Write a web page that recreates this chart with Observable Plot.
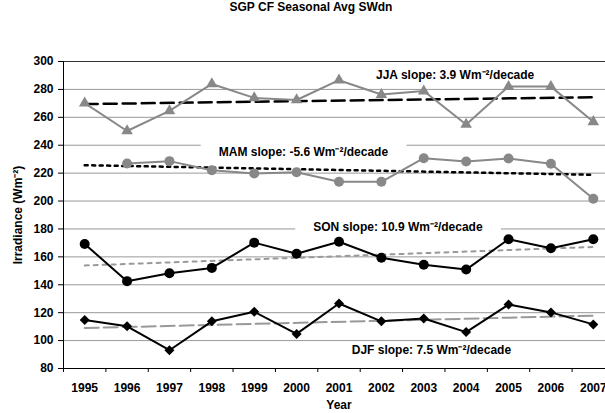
<!DOCTYPE html>
<html><head><meta charset="utf-8">
<script src="https://cdn.jsdelivr.net/npm/d3@7"></script>
<script src="https://cdn.jsdelivr.net/npm/@observablehq/plot@0.6"></script>
<style>
html,body{margin:0;padding:0;overflow:hidden;background:#fff;width:605px;height:413px;}
#title{height:34px;line-height:34px;width:605px;text-align:center;padding-left:17px;box-sizing:border-box;font:bold 12px Arial,"Liberation Sans",sans-serif;color:#000;}
#chart{width:605px;height:379px;overflow:hidden;position:relative;}
#chart svg{display:block;max-width:none !important;width:620px;height:379px;}
</style></head><body>
<div id="title">SGP CF Seasonal Avg SWdn</div>
<div id="chart"></div>
<script>
const years = [1995,1996,1997,1998,1999,2000,2001,2002,2003,2004,2005,2006,2007];
const jja = [270.2,250.2,264.6,283.9,273.9,272.4,286.6,276.3,278.8,254.9,282,282,256.8];
const mam = [null,226.9,228.6,222.1,219.8,220.6,213.8,213.8,230.7,228.3,230.5,226.7,201.7];
const son = [169.2,142.6,148.3,152.1,170.2,162.2,170.8,159.4,154.4,150.9,172.6,166.2,172.6];
const djf = [114.8,110.2,93.1,113.8,120.6,104.8,126.6,113.8,115.8,106.1,125.8,120.2,111.6];
const trendYears = [1995, 2007];
const jjaTrend = [269.5, 274.4];
const mamTrend = [225.7, 218.8];
const sonTrend = [153.8, 167.1];
const djfTrend = [109.0, 117.9];
const labelText = ["JJA slope: 3.9 Wm\u207B\u00B2/decade","MAM slope: -5.6 Wm\u207B\u00B2/decade","SON slope: 10.9 Wm\u207B\u00B2/decade","DJF slope: 7.5 Wm\u207B\u00B2/decade"];
const labelYear = [2003.74, 2000.16, 2002.39, 2003.18];
const labelValue = [290.3, 235.1, 181, 92.8];
const yTicks = [80,100,120,140,160,180,200,220,240,260,280,300];
const gridValues = [100,120,140,160,180,200,220,240,260,280];
const yearBounds = [1994.5,1995.5,1996.5,1997.5,1998.5,1999.5,2000.5,2001.5,2002.5,2003.5,2004.5,2005.5,2006.5,2007.5];
const yLabel = "Irradiance (Wm\u207B\u00B2)";

const rows = vals => years.map((y,i)=>({year:y, value:vals[i]})).filter(d=>d.value!=null);
const trendRows = vals => trendYears.map((y,i)=>({year:y, value:vals[i]}));
const labels = labelText.map((t,i)=>({text:t, year:labelYear[i], value:labelValue[i]}));

const plot = Plot.plot({
  width:620, height:379, marginTop:27, marginBottom:45, marginLeft:63, marginRight:6,
  style:{fontFamily:'Arial, "Liberation Sans", sans-serif', fontSize:"12px", fontWeight:"bold", background:"white", color:"#000"},
  x:{domain:[1994.5,2007.5]},
  y:{domain:[80,300]},
  marks:[
    Plot.ruleY(gridValues, {stroke:"#999", strokeWidth:1}),
    Plot.ruleY([300], {stroke:"#333", strokeWidth:1}),
    Plot.ruleY([80], {stroke:"#000", strokeWidth:1}),
    Plot.ruleX([1994.5], {stroke:"#000", strokeWidth:1}),
    Plot.axisY(yTicks, {tickSize:5, tickPadding:5, label:yLabel, labelAnchor:"center", labelArrow:"none", labelOffset:50}),
    Plot.axisX(yearBounds, {tickSize:4, tickFormat:()=>"", label:null}),
    Plot.axisX(years, {tickSize:0, tickPadding:15, tickFormat:"d", label:"Year", labelAnchor:"center", labelArrow:"none", labelOffset:40}),
    Plot.line(trendRows(jjaTrend), {x:"year", y:"value", stroke:"#000", strokeWidth:2.5, strokeDasharray:"13,6"}),
    Plot.line(trendRows(mamTrend), {x:"year", y:"value", stroke:"#000", strokeWidth:2.5, strokeDasharray:"3,4.5"}),
    Plot.line(trendRows(sonTrend), {x:"year", y:"value", stroke:"#999", strokeWidth:2, strokeDasharray:"4,5"}),
    Plot.line(trendRows(djfTrend), {x:"year", y:"value", stroke:"#999", strokeWidth:2, strokeDasharray:"14,5"}),
    Plot.line(rows(jja), {x:"year", y:"value", stroke:"#888", strokeWidth:2}),
    Plot.dot(rows(jja), {x:"year", y:"value", symbol:"triangle", r:4.3, fill:"#888"}),
    Plot.line(rows(mam), {x:"year", y:"value", stroke:"#888", strokeWidth:2}),
    Plot.dot(rows(mam), {x:"year", y:"value", symbol:"circle", r:5, fill:"#888"}),
    Plot.line(rows(son), {x:"year", y:"value", stroke:"#000", strokeWidth:2}),
    Plot.dot(rows(son), {x:"year", y:"value", symbol:"circle", r:5, fill:"#000"}),
    Plot.line(rows(djf), {x:"year", y:"value", stroke:"#000", strokeWidth:2}),
    Plot.dot(rows(djf), {x:"year", y:"value", symbol:"diamond2", r:4.5, fill:"#000"}),
    Plot.text(labels, {x:"year", y:"value", text:"text", fill:"#000", fontSize:12, fontWeight:"bold"})
  ]
});
document.getElementById("chart").append(plot);

// white boxes behind the slope labels that interrupt the gridlines
const svgRect = plot.getBoundingClientRect();
const grid = plot.querySelector('g[aria-label="rule"]');
const texts = Array.from(plot.querySelectorAll('text')).filter(t => t.textContent.includes("slope"));
if (grid) {
  let after = grid;
  texts.forEach(t => {
    const b = t.getBoundingClientRect();
    const r = document.createElementNS("http://www.w3.org/2000/svg","rect");
    r.setAttribute("x", b.left - svgRect.left - 18);
    r.setAttribute("y", b.top - svgRect.top - 1);
    r.setAttribute("width", b.width + 36);
    r.setAttribute("height", b.height + 2);
    r.setAttribute("fill", "white");
    after.after(r);
    after = r;
  });
}
</script>
</body></html>
